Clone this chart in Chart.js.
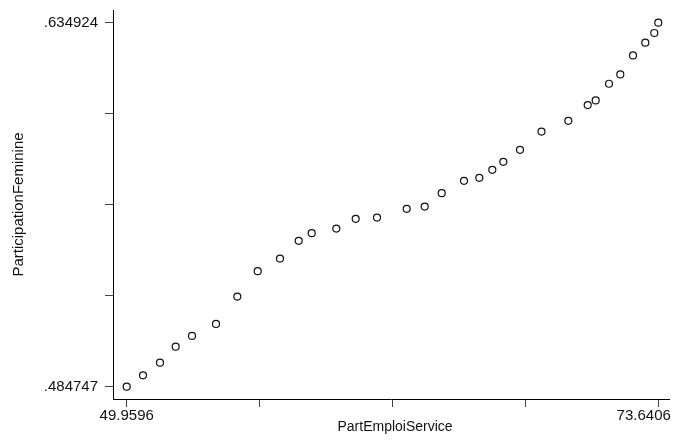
<!DOCTYPE html>
<html><head><meta charset="utf-8">
<script src="https://cdn.jsdelivr.net/npm/chart.js@4/dist/chart.umd.min.js"></script>
<style>html,body{margin:0;padding:0;background:#fff;}canvas{display:block;}</style>
</head><body>
<canvas id="c" width="674" height="441"></canvas>
<script>
const partEmploiService = [49.9596, 50.686, 51.443, 52.142, 52.869, 53.938, 54.887, 55.795, 56.789, 57.622, 58.201, 59.297, 60.161, 61.110, 62.433, 63.235, 63.992, 64.986, 65.667, 66.246, 66.736, 67.480, 68.438, 69.632, 70.496, 70.852, 71.445, 71.948, 72.514, 73.062, 73.463, 73.6406];
const participationFeminine = [0.484747, 0.48945, 0.49466, 0.50126, 0.50568, 0.51064, 0.52191, 0.53240, 0.53760, 0.54491, 0.54809, 0.54999, 0.55399, 0.55453, 0.55812, 0.55907, 0.56461, 0.56968, 0.57092, 0.57423, 0.57753, 0.58249, 0.59000, 0.59446, 0.60094, 0.60284, 0.60974, 0.61358, 0.62143, 0.62667, 0.63068, 0.634924];
const xTickValues = [49.9596, 55.87985, 61.8001, 67.72035, 73.6406];
const xTickLabels = ['49.9596', '', '', '', '73.6406'];
const yTickValues = [0.484747, 0.52229125, 0.5598355, 0.59737975, 0.634924];
const yTickLabels = ['.484747', '', '', '', '.634924'];
const xTitle = 'PartEmploiService';
const yTitle = 'ParticipationFeminine';

const points = partEmploiService.map((x, i) => ({x: x, y: participationFeminine[i]}));
const FONT = '"Liberation Sans", Arial, Helvetica, sans-serif';

new Chart(document.getElementById('c'), {
  type: 'scatter',
  data: {datasets: [{
    data: points,
    pointRadius: 3.5,
    pointHoverRadius: 3.5,
    pointBorderWidth: 1.2,
    borderColor: '#111',
    backgroundColor: 'rgba(255,255,255,0)',
    clip: false
  }]},
  options: {
    responsive: false,
    animation: false,
    events: [],
    layout: {padding: {left: 0, right: 0, top: 10, bottom: 0}},
    plugins: {legend: {display: false}, tooltip: {enabled: false}},
    scales: {
      x: {
        type: 'linear',
        min: 49.3493, max: 74.1308,
        afterBuildTicks: s => { s.ticks = xTickValues.map(v => ({value: v})); },
        afterFit: s => { s.height = 42; s.paddingLeft = 0; s.paddingRight = 0; },
        ticks: {
          autoSkip: false, maxRotation: 0, minRotation: 0, padding: 0,
          color: '#111', font: {family: FONT, size: 15},
          callback: (v, i) => i === xTickValues.length - 1 ? xTickLabels[i] + '       ' : xTickLabels[i]
        },
        grid: {display: true, drawOnChartArea: false, drawTicks: true, tickLength: 8, color: '#444', lineWidth: 1},
        border: {display: true, color: '#000', width: 1},
        title: {display: true, text: '  ' + xTitle, color: '#111', font: {family: FONT, size: 14}, padding: {top: 0, bottom: 5}}
      },
      y: {
        type: 'linear',
        min: 0.479668, max: 0.640168,
        afterBuildTicks: s => { s.ticks = yTickValues.map(v => ({value: v})); },
        afterFit: s => { s.width = 113; s.paddingTop = 0; s.paddingBottom = 0; },
        ticks: {
          autoSkip: false, padding: 7,
          color: '#111', font: {family: FONT, size: 15},
          callback: (v, i) => yTickLabels[i]
        },
        grid: {display: true, drawOnChartArea: false, drawTicks: true, tickLength: 8, color: '#444', lineWidth: 1},
        border: {display: true, color: '#000', width: 1},
        title: {display: true, text: yTitle, color: '#111', font: {family: FONT, size: 15}, padding: {top: 10, bottom: 0}}
      }
    }
  }
});
</script>
</body></html>
